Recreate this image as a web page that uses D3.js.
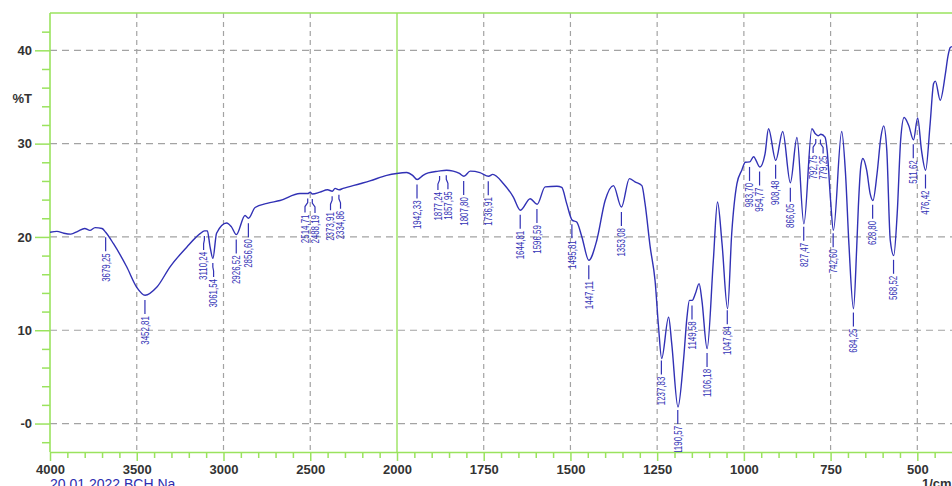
<!DOCTYPE html>
<html>
<head>
<meta charset="utf-8">
<script src="https://cdnjs.cloudflare.com/ajax/libs/d3/7.8.5/d3.min.js"></script>
<style>
body { margin: 0; background: #fff; }
svg { display: block; font-family: "Liberation Sans", Arial, sans-serif; }
</style>
</head>
<body>
<svg id="chart" width="952" height="486"></svg>
<script>
// spectrum: wavenumber (1/cm) and %T
var wavenumbers = [4000, 3960, 3920, 3880, 3840, 3800, 3770, 3740, 3700, 3679,
	3635, 3558, 3500, 3452, 3385, 3308, 3212, 3135, 3110, 3093,
	3078, 3061, 3040, 2982, 2955, 2926, 2876, 2856, 2818, 2749,
	2674, 2559, 2514, 2500, 2488, 2444, 2400, 2373, 2357, 2334,
	2311, 2213, 2156, 2059, 2002, 1972, 1955, 1942, 1925, 1910,
	1881, 1857, 1838, 1820, 1807, 1789, 1761, 1736, 1724, 1693,
	1665, 1644, 1616, 1596, 1573, 1539, 1525, 1511, 1495, 1482,
	1467, 1447, 1424, 1400, 1376, 1353, 1330, 1314, 1294, 1285,
	1270, 1256, 1246, 1237, 1217, 1208, 1190, 1174, 1164, 1157,
	1149, 1140, 1129, 1121, 1106, 1088, 1076, 1063, 1047, 1035,
	1020, 1006, 996, 983, 972, 954, 939, 929, 908, 888,
	866, 847, 827, 804, 794, 786, 778, 766, 760, 750,
	742, 718, 707, 697, 684, 675, 670, 663, 657, 646,
	636, 628, 616, 605, 597, 588, 578, 568, 558, 548,
	538, 525, 511, 499, 488, 476, 463, 453, 448, 434,
	419, 412, 405, 400];
var transmittance = [20.5, 20.6, 20.4, 20.3, 20.6, 20.9, 20.7, 21.0, 20.9, 20.5,
	19.3, 16.8, 14.6, 13.75, 14.6, 16.8, 18.9, 20.35, 20.65, 20.65,
	19.0, 17.7, 20.4, 21.5, 21.1, 20.25, 22.3, 22.0, 23.15, 23.6,
	23.9, 24.65, 24.65, 24.8, 24.6, 24.8, 25.05, 24.9, 25.2, 25.05,
	25.2, 25.7, 26.0, 26.6, 26.8, 26.9, 26.6, 26.15, 26.6, 26.86,
	27.05, 27.15, 27.05, 26.8, 26.5, 27.05, 26.9, 26.5, 26.7, 25.7,
	24.3, 22.86, 24.1, 23.5, 25.36, 25.43, 25.3, 23.6, 21.8, 21.6,
	20.0, 17.5, 19.65, 23.9, 25.5, 23.2, 26.25, 25.9, 25.5, 23.6,
	18.9, 15.3, 10.35, 6.97, 11.4, 8.57, 1.78, 6.8, 11.4, 13.2,
	13.2, 13.9, 15.0, 13.2, 8.04, 17.5, 23.75, 19.3, 12.3, 20.4,
	25.7, 27.15, 28.0, 28.04, 28.6, 27.5, 28.9, 31.6, 28.2, 31.3,
	25.8, 30.65, 21.4, 31.6, 31.05, 30.85, 31.0, 30.7, 29.3, 23.9,
	20.7, 31.3, 26.8, 19.1, 12.3, 18.6, 23.2, 27.5, 28.4, 27.15,
	24.65, 23.9, 26.8, 30.7, 31.9, 29.3, 19.65, 18.0, 22.5, 30.4,
	32.8, 31.97, 30.4, 32.75, 29.3, 27.15, 32.15, 36.45, 36.7, 34.65,
	37.5, 39.3, 40.3, 40.4];

// picked peaks
var peakWavenumbers = [3679.25, 3452.81, 3110.24, 3061.54, 2926.52, 2856.60, 2514.71, 2488.19,
	2373.91, 2334.86, 1942.33, 1877.24, 1857.95, 1807.80, 1736.91, 1644.81, 1596.59,
	1495.81, 1447.11, 1353.08, 1237.83, 1190.57, 1149.58, 1106.18, 1047.84, 983.70,
	954.77, 908.48, 866.05, 827.47, 792.75, 779.25, 742.60, 684.25, 628.80, 568.52,
	511.62, 476.42];

var xTicks = [4000, 3500, 3000, 2500, 2000, 1750, 1500, 1250, 1000, 750, 500];
var yTicks = [40, 30, 20, 10, 0];
var xTitle = "1/cm", yTitle = "%T", sampleName = "20.01.2022 BCH Na";

var pLeft = 50, pRight = 952, pTop = 13, pBottom = 452;
var green = "#9ae35e", grid = "#a3a3a3", blue = "#3131b5";

var svg = d3.select("#chart");

// wavenumber axis is expanded 2x below 2000
var x = d3.scaleLinear().domain([4000, 2000, 400]).range([pLeft, 397, pRight]);
var y = d3.scaleLinear().domain([-3.05, 44]).range([pBottom, pTop]);
var tAt = d3.scaleLinear().domain(wavenumbers).range(transmittance);

svg.append("defs").append("clipPath").attr("id", "plot")
	.append("rect")
	.attr("x", pLeft).attr("y", pTop)
	.attr("width", pRight - pLeft).attr("height", pBottom - pTop);

// dashed grid
var gridG = svg.append("g");
gridG.selectAll("line.h").data(yTicks).enter().append("line")
	.attr("class", "h")
	.attr("x1", pLeft).attr("x2", pRight)
	.attr("y1", function(d){ return y(d); })
	.attr("y2", function(d){ return y(d); })
	.attr("stroke", grid).attr("stroke-width", 1.2)
	.attr("stroke-dasharray", "7,5");
gridG.selectAll("line.v").data(xTicks.filter(function(d){ return d != 4000 && d != 2000; }))
	.enter().append("line")
	.attr("class", "v")
	.attr("y1", pTop).attr("y2", pBottom)
	.attr("x1", function(d){ return x(d); })
	.attr("x2", function(d){ return x(d); })
	.attr("stroke", grid).attr("stroke-width", 1.2)
	.attr("stroke-dasharray", "5,4");

// frame
svg.append("line").attr("x1", pLeft).attr("x2", pRight).attr("y1", pTop).attr("y2", pTop)
	.attr("stroke", green).attr("stroke-width", 1.6);
svg.append("line").attr("x1", x(2000)).attr("x2", x(2000)).attr("y1", pTop).attr("y2", pBottom)
	.attr("stroke", green).attr("stroke-width", 1.4);
svg.append("line").attr("x1", pLeft).attr("x2", pLeft).attr("y1", pTop).attr("y2", pBottom)
	.attr("stroke", green).attr("stroke-width", 1.6);

// minor ticks
var xMinor = d3.range(3900, 2000, -100).concat(d3.range(1950, 400, -50))
	.filter(function(d){ return xTicks.indexOf(d) < 0; });
var yMinor = d3.range(-2, 44, 2).filter(function(d){ return d % 10 != 0; });

svg.append("g").attr("transform", "translate(0," + pBottom + ")")
	.call(d3.axisBottom(x).tickValues(xMinor).tickSize(6).tickSizeOuter(0).tickFormat(""))
	.call(function(g){ g.select(".domain").remove(); });
svg.append("g").attr("transform", "translate(" + pLeft + ",0)")
	.call(d3.axisLeft(y).tickValues(yMinor).tickSize(8).tickSizeOuter(0).tickFormat(""))
	.call(function(g){ g.select(".domain").remove(); });

// major ticks + labels
svg.append("g").attr("transform", "translate(0," + pBottom + ")")
	.call(d3.axisBottom(x).tickValues(xTicks).tickSize(9).tickPadding(4).tickSizeOuter(0)
		.tickFormat(d3.format("d")));
svg.append("g").attr("transform", "translate(" + pLeft + ",0)")
	.call(d3.axisLeft(y).tickValues(yTicks).tickSize(15).tickPadding(3).tickSizeOuter(0)
		.tickFormat(function(d){ return d == 0 ? "-0" : d; }))
	.call(function(g){ g.select(".domain").remove(); });

svg.selectAll(".tick line").attr("stroke", green).attr("stroke-width", 1.5);
svg.selectAll(".domain").attr("stroke", green).attr("stroke-width", 1.6);
svg.selectAll(".tick text")
	.attr("fill", "#333")
	.style("font-size", "13px")
	.style("font-weight", "bold")
	.style("font-family", "'Liberation Sans', Arial, sans-serif");

svg.append("text").text(yTitle)
	.attr("x", 32).attr("y", 98).attr("dy", "0.35em")
	.attr("text-anchor", "end")
	.attr("fill", "#333").style("font-size", "13px").style("font-weight", "bold");
svg.append("text").text(xTitle)
	.attr("x", 922).attr("y", 488)
	.attr("fill", "#333").style("font-size", "13px").style("font-weight", "bold");
svg.append("text").text(sampleName)
	.attr("x", 50).attr("y", 489)
	.attr("fill", "#2e2eb0").style("font-size", "14px");

// spectrum
var line = d3.line()
	.x(function(d){ return x(d[0]); })
	.y(function(d){ return y(d[1]); })
	.curve(d3.curveMonotoneX);

svg.append("path")
	.datum(d3.zip(wavenumbers, transmittance))
	.attr("clip-path", "url(#plot)")
	.attr("fill", "none")
	.attr("stroke", blue)
	.attr("stroke-width", 1.4)
	.attr("d", line);

// peak labels, pushed apart where two picks are too close
var fmt = d3.format(".2f");
var peaks = peakWavenumbers.map(function(w){
	var px = x(w);
	return {w: w, px: px, py: y(tAt(w)), tx: px, label: fmt(w).replace(".", ",")};
});
for (var i = 1; i < peaks.length; i++){
	var a = peaks[i - 1], b = peaks[i];
	if (b.tx - a.tx < 10){
		var mid = (a.px + b.px) / 2;
		a.tx = mid - 5;
		b.tx = mid + 5;
	}
}

var lab = svg.append("g").attr("clip-path", "url(#plot)");
lab.selectAll("path").data(peaks).enter().append("path")
	.attr("fill", "none")
	.attr("stroke", blue)
	.attr("stroke-width", 1.2)
	.attr("d", function(d){
		return "M" + d.px + "," + (d.py + 5) + "L" + d.px + "," + (d.py + 9)
			+ "L" + d.tx + "," + (d.py + 13) + "L" + d.tx + "," + (d.py + 19);
	});
lab.selectAll("text").data(peaks).enter().append("text")
	.text(function(d){ return d.label; })
	.attr("transform", function(d){
		return "translate(" + d.tx + "," + (d.py + 21) + ") rotate(-90) scale(0.72,1)";
	})
	.attr("dy", "0.35em")
	.attr("text-anchor", "end")
	.attr("fill", blue)
	.style("font-size", "11px");
</script>
</body>
</html>
